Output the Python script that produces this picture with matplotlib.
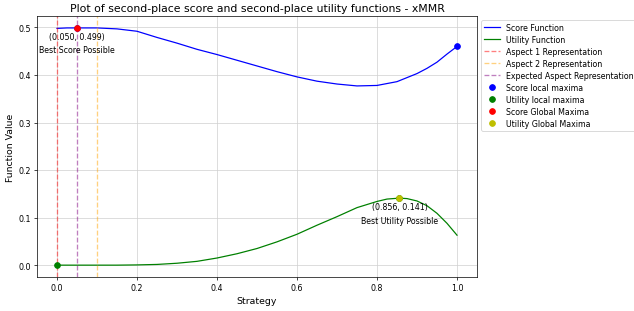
import matplotlib as mpl
mpl.use('Agg')
import matplotlib.pyplot as plt

# Values
score_x = [0.00, 0.025, 0.05, 0.10, 0.15, 0.20, 0.25, 0.30, 0.35, 0.40, 0.45, 0.50,
           0.55, 0.60, 0.65, 0.70, 0.75, 0.80, 0.85, 0.90, 0.925, 0.95, 0.975, 1.00]
score = [0.498, 0.499, 0.499, 0.499, 0.497, 0.492, 0.479, 0.467, 0.454, 0.443, 0.431, 0.419,
         0.407, 0.396, 0.387, 0.381, 0.377, 0.378, 0.386, 0.403, 0.414, 0.427, 0.444, 0.460]

utility_x = [0.00, 0.05, 0.10, 0.15, 0.20, 0.25, 0.30, 0.35, 0.40, 0.45, 0.50, 0.55,
             0.60, 0.65, 0.70, 0.75, 0.80, 0.825, 0.856, 0.875, 0.90, 0.925, 0.95, 0.975, 1.00]
utility = [0.000, 0.000, 0.000, 0.000, 0.0005, 0.0015, 0.004, 0.008, 0.015, 0.024, 0.035, 0.049,
           0.065, 0.084, 0.102, 0.121, 0.134, 0.139, 0.141, 0.140, 0.135, 0.125, 0.109, 0.088, 0.063]

aspect1 = 0.0
aspect2 = 0.1
expected_aspect = 0.05

score_local_x = [0.05, 1.0]
score_local_y = [0.499, 0.460]
utility_local_x = [0.0, 0.856]
utility_local_y = [0.000, 0.141]
score_best = (0.050, 0.499)
utility_best = (0.856, 0.141)

fig = plt.figure(figsize=(10, 4.92), dpi=63.4)
ax = fig.add_axes([37 / 634, 34 / 312, 440 / 634, 261 / 312])

ax.plot(score_x, score, color='blue', linewidth=1.4, label='Score Function')
ax.plot(utility_x, utility, color='green', linewidth=1.4, label='Utility Function')
ax.axvline(aspect1, color='red', linestyle='--', alpha=0.5, label='Aspect 1 Representation')
ax.axvline(aspect2, color='orange', linestyle='--', alpha=0.5, label='Aspect 2 Representation')
ax.axvline(expected_aspect, color='purple', linestyle='--', alpha=0.5,
           label='Expected Aspect Representation')

ax.plot(score_local_x, score_local_y, 'o', color='blue', markersize=6.5, label='Score local maxima')
ax.plot(utility_local_x, utility_local_y, 'o', color='green', markersize=6.5,
        label='Utility local maxima')
ax.plot([score_best[0]], [score_best[1]], 'o', color='red', markersize=6.5,
        label='Score Global Maxima')
ax.plot([utility_best[0]], [utility_best[1]], 'o', color='y', markersize=6.5,
        label='Utility Global Maxima')

ax.annotate('({:.3f}, {:.3f})\nBest Score Possible'.format(*score_best), xy=score_best,
            xytext=(0, -5), textcoords='offset points', ha='center', va='top',
            fontsize=9, linespacing=1.6)
ax.annotate('({:.3f}, {:.3f})\nBest Utility Possible'.format(*utility_best), xy=utility_best,
            xytext=(0, -5), textcoords='offset points', ha='center', va='top',
            fontsize=9, linespacing=1.6)

ax.set_title('Plot of second-place score and second-place utility functions - xMMR', fontsize=12.3)
ax.set_xlabel('Strategy', fontsize=10.6)
ax.set_ylabel('Function Value', fontsize=10.6)
ax.tick_params(labelsize=9)
ax.grid(True, color='#d0d0d0')
ax.legend(loc='upper left', bbox_to_anchor=(1, 1), fontsize=9, labelspacing=0.37)

fig.savefig('out.png', dpi=63.4)
